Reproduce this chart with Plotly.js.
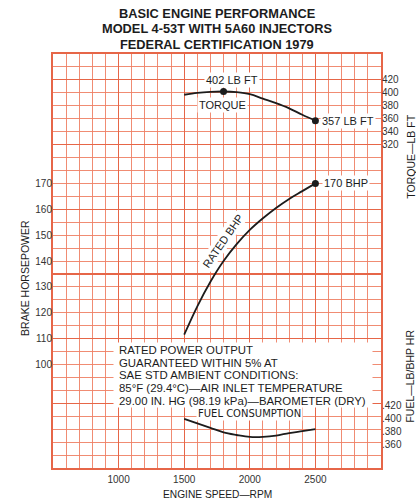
<!DOCTYPE html>
<html>
<head>
<meta charset="utf-8">
<script src="https://cdn.plot.ly/plotly-3.0.1.min.js"></script>
<style>html,body{margin:0;padding:0;background:#fff;}#chart{width:416px;height:499px;}</style>
</head>
<body>
<div id="chart"></div>
<script>
// Engine speed, RPM
const rpm = [1500, 1600, 1700, 1800, 1900, 2000, 2100, 2200, 2300, 2400, 2500];
// Torque, LB FT
const torque = [397, 400, 401.5, 402, 401, 398, 391, 384, 376, 366, 357];
// Brake horsepower
const bhp = [111.5, 122.5, 132, 140, 146.5, 152, 156.5, 160.5, 164, 167, 170];
// Fuel consumption, LB/BHP HR
const fuel = [0.400, 0.393, 0.386, 0.379, 0.375, 0.372, 0.372, 0.374, 0.378, 0.381, 0.384];

const rpmTicks = [1000, 1500, 2000, 2500];
const bhpTicks = [100, 110, 120, 130, 140, 150, 160, 170];
const torqueTicks = [320, 340, 360, 380, 400, 420];
const fuelTicks = [0.36, 0.38, 0.40, 0.42];
const fuelTickText = ['.360', '.380', '.400', '.420'];
const heavyGrid = [60, 85, 110, 135, 160, 185, 210, 220];

const titleLines = [
  'BASIC ENGINE PERFORMANCE',
  'MODEL 4-53T WITH 5A60 INJECTORS',
  'FEDERAL CERTIFICATION 1979'
];
const noteLines = [
  'RATED POWER OUTPUT',
  'GUARANTEED WITHIN 5% AT',
  'SAE STD AMBIENT CONDITIONS:',
  '85\u00B0F (29.4\u00B0C)\u2014AIR INLET TEMPERATURE',
  '29.00 IN. HG (98.19 kPa)\u2014BAROMETER (DRY)'
];

const FONT = 'Liberation Sans, Arial, Helvetica, sans-serif';
const INK = '#1c1c1c';
const HEAVY = 'rgb(230,102,72)';
const LIGHT = 'rgb(238,128,100)';

const last = rpm.length - 1;
const peak = torque.indexOf(Math.max(...torque));

const traces = [
  {x: [], y: [], yaxis: 'y4', xaxis: 'x', showlegend: false, hoverinfo: 'skip'},
  {x: rpm, y: torque, yaxis: 'y2', mode: 'lines', line: {color: INK, width: 1.8, shape: 'spline'}, showlegend: false},
  {x: rpm, y: bhp, yaxis: 'y', mode: 'lines', line: {color: INK, width: 1.8, shape: 'spline'}, showlegend: false},
  {x: rpm, y: fuel, yaxis: 'y3', mode: 'lines', line: {color: INK, width: 1.8, shape: 'spline'}, showlegend: false},
  {x: [rpm[peak], rpm[last]], y: [torque[peak], torque[last]], yaxis: 'y2', mode: 'markers',
   marker: {color: INK, size: 7}, showlegend: false},
  {x: [rpm[last]], y: [bhp[last]], yaxis: 'y', mode: 'markers', marker: {color: INK, size: 7}, showlegend: false}
];

const annFont = {family: FONT, size: 11, color: INK};
const tickFont = {family: FONT, size: 10, color: '#333'};

// paper y from pixel row inside the plot area (top 54, height 414)
const py = (row) => (468 - row) / 414;

const annotations = [
  {xref: 'x', yref: 'y2', x: rpm[peak], y: torque[peak], text: torque[peak] + ' LB FT',
   showarrow: false, yshift: 12, xshift: 8, bgcolor: '#fff', borderpad: 1, font: annFont},
  {xref: 'x', yref: 'y2', x: 1795, y: 381, text: 'TORQUE', showarrow: false,
   bgcolor: '#fff', borderpad: 1, font: annFont},
  {xref: 'x', yref: 'y2', x: rpm[last], y: torque[last], text: torque[last] + ' LB FT',
   showarrow: false, xanchor: 'left', xshift: 5, bgcolor: '#fff', borderpad: 1, font: annFont},
  {xref: 'x', yref: 'y', x: rpm[last], y: bhp[last], text: bhp[last] + ' BHP',
   showarrow: false, xanchor: 'left', xshift: 7, bgcolor: '#fff', borderpad: 1, font: annFont},
  {xref: 'x', yref: 'y', x: 1795, y: 147.7, text: 'RATED BHP', showarrow: false, textangle: -55,
   bgcolor: '#fff', borderpad: 1, font: annFont},
  // white panel behind the note
  {xref: 'paper', yref: 'paper', x: (113 - 53) / 328, y: py(342), xanchor: 'left', yanchor: 'top',
   text: ' ', width: 258, height: 64, showarrow: false, bgcolor: '#fff', borderpad: 0},
  {xref: 'x', yref: 'y3', x: 2000, y: 0.4076, text: 'FUEL CONSUMPTION', showarrow: false,
   bgcolor: '#fff', borderpad: 1, font: {family: 'DejaVu Sans, sans-serif', size: 10, color: INK}},
  {xref: 'paper', yref: 'paper', x: -0.11, y: py(278), text: 'BRAKE HORSEPOWER', textangle: -90,
   showarrow: false, font: {family: FONT, size: 10.5, color: INK}},
  {xref: 'paper', yref: 'paper', x: 1.115, y: py(113), text: 'TORQUE\u2014LB FT', textangle: -90,
   showarrow: false, font: {family: FONT, size: 10.5, color: INK}},
  {xref: 'paper', yref: 'paper', x: 1.11, y: py(425), text: 'FUEL\u2014LB/BHP HR', textangle: -90,
   showarrow: false, font: {family: FONT, size: 10.5, color: INK}},
  {xref: 'paper', yref: 'paper', x: 0.5, y: py(494), yanchor: 'middle', text: 'ENGINE SPEED\u2014RPM',
   showarrow: false, font: {family: FONT, size: 10.2, color: INK}}
];
noteLines.forEach((t, i) => annotations.push({
  xref: 'paper', yref: 'paper', x: (117 - 53) / 328, y: py(350 + i * 12.7), xanchor: 'left', yanchor: 'middle',
  text: t, showarrow: false, font: {family: FONT, size: 11.4, color: INK}
}));
titleLines.forEach((t, i) => annotations.push({
  xref: 'paper', yref: 'paper', x: 0.5, y: py(13 + i * 16), xanchor: 'center', yanchor: 'middle',
  text: '<b>' + t + '</b>', showarrow: false, font: {family: FONT, size: 12.8, color: INK}
}));

const layout = {
  width: 416, height: 499,
  margin: {l: 53, r: 35, t: 54, b: 31, autoexpand: false},
  paper_bgcolor: '#fff', plot_bgcolor: '#fff',
  showlegend: false,
  xaxis: {
    range: [500, 3000], tickvals: rpmTicks, ticks: '', zeroline: false, automargin: false,
    showgrid: true, gridcolor: HEAVY, gridwidth: 1.15,
    minor: {tickmode: 'linear', tick0: 500, dtick: 100, showgrid: true, gridcolor: LIGHT, gridwidth: 0.9},
    showline: true, mirror: true, linecolor: HEAVY, linewidth: 2,
    tickfont: tickFont, ticklabelstandoff: 1,
    fixedrange: true
  },
  yaxis: {
    range: [60, 220], tickvals: bhpTicks, ticks: '', showgrid: false, zeroline: false, automargin: false,
    tickfont: tickFont, fixedrange: true
  },
  yaxis2: {
    overlaying: 'y', side: 'right', anchor: 'x', range: [-180, 460], automargin: false,
    tickvals: torqueTicks, ticks: '', showgrid: false, zeroline: false,
    tickfont: tickFont, fixedrange: true
  },
  yaxis3: {
    overlaying: 'y', side: 'right', anchor: 'x', range: [0.324, 0.964], automargin: false,
    tickvals: fuelTicks, ticktext: fuelTickText, ticks: '', showgrid: false, zeroline: false,
    tickfont: tickFont, fixedrange: true
  },
  yaxis4: {
    overlaying: 'y', anchor: 'x', range: [60, 220], tickvals: heavyGrid, automargin: false,
    showticklabels: false, ticks: '', zeroline: false,
    showgrid: true, gridcolor: HEAVY, gridwidth: 1.15,
    minor: {tickmode: 'linear', tick0: 60, dtick: 5, showgrid: true, gridcolor: LIGHT, gridwidth: 0.9},
    showline: true, mirror: true, linecolor: HEAVY, linewidth: 2, fixedrange: true
  },
  annotations: annotations
};

Plotly.newPlot('chart', traces, layout, {displayModeBar: false, staticPlot: true});
</script>
</body>
</html>
